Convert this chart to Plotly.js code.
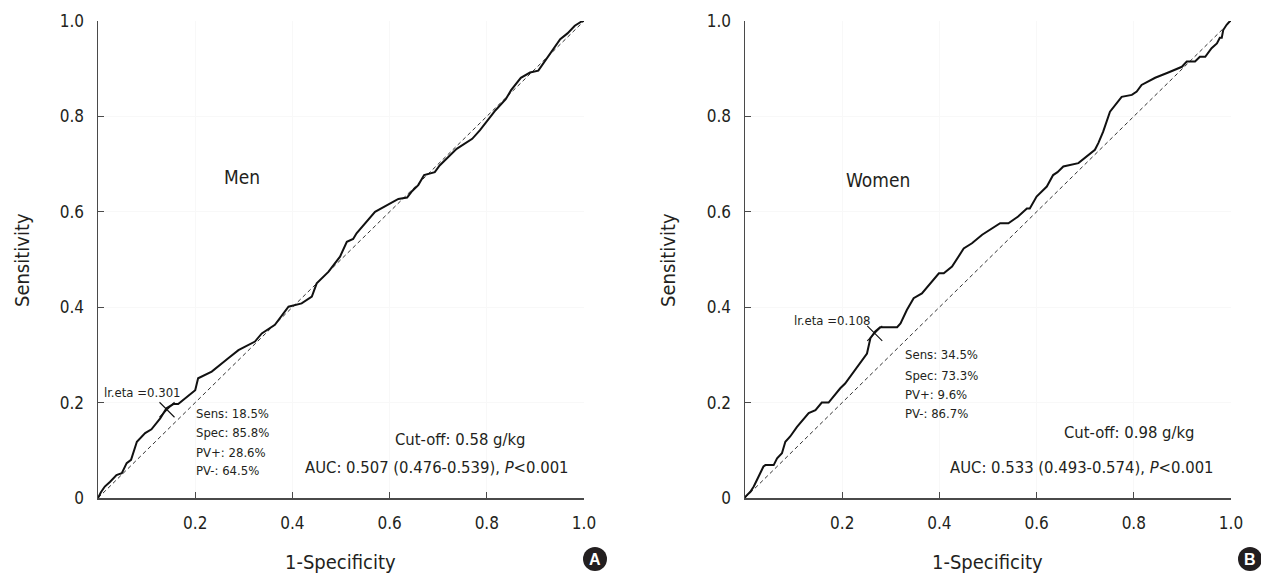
<!DOCTYPE html>
<html>
<head>
<meta charset="utf-8">
<script src="https://cdn.plot.ly/plotly-3.0.1.min.js"></script>
<style>html,body{margin:0;padding:0;background:#fff;}#chart{width:1261px;height:573px;}</style>
</head>
<body>
<div id="chart"></div>
<script>
// ---- data ----
const menFPR = [0,0.006,0.014,0.025,0.038,0.049,0.059,0.068,0.080,0.097,0.110,0.128,0.141,0.155,0.165,0.200,0.206,0.234,0.268,0.289,0.323,0.337,0.364,0.392,0.419,0.440,0.450,0.474,0.498,0.512,0.525,0.532,0.570,0.618,0.636,0.645,0.659,0.671,0.693,0.703,0.738,0.770,0.786,0.800,0.818,0.839,0.850,0.870,0.889,0.906,0.916,0.930,0.951,0.966,0.981,0.995,1];
const menTPR = [0,0.012,0.024,0.034,0.048,0.052,0.073,0.080,0.118,0.136,0.144,0.167,0.188,0.197,0.197,0.226,0.251,0.265,0.293,0.310,0.328,0.345,0.363,0.401,0.408,0.422,0.450,0.474,0.506,0.537,0.543,0.555,0.600,0.627,0.630,0.642,0.656,0.677,0.683,0.697,0.732,0.753,0.771,0.789,0.813,0.836,0.855,0.881,0.892,0.896,0.911,0.932,0.962,0.974,0.990,0.999,1];
const womenFPR = [0,0.001,0.011,0.018,0.028,0.038,0.042,0.059,0.066,0.076,0.083,0.093,0.107,0.121,0.131,0.145,0.158,0.172,0.196,0.206,0.224,0.237,0.251,0.258,0.268,0.278,0.313,0.320,0.333,0.347,0.364,0.399,0.409,0.426,0.450,0.467,0.488,0.525,0.542,0.562,0.580,0.586,0.600,0.621,0.634,0.643,0.655,0.686,0.706,0.720,0.727,0.737,0.751,0.775,0.796,0.806,0.816,0.844,0.871,0.899,0.909,0.926,0.936,0.947,0.960,0.971,0.977,0.981,0.984,0.991,0.998,1];
const womenTPR = [0,0.003,0.013,0.024,0.045,0.066,0.069,0.069,0.083,0.094,0.118,0.129,0.149,0.167,0.178,0.184,0.200,0.200,0.230,0.240,0.265,0.282,0.303,0.335,0.349,0.358,0.358,0.366,0.394,0.419,0.429,0.471,0.471,0.485,0.523,0.534,0.552,0.576,0.576,0.590,0.607,0.607,0.632,0.653,0.677,0.683,0.695,0.702,0.719,0.730,0.744,0.768,0.810,0.841,0.845,0.852,0.866,0.881,0.892,0.904,0.915,0.915,0.925,0.925,0.943,0.953,0.965,0.965,0.981,0.992,1.0,1];
const refLine = [0, 1];
const menCut = {fpr: 0.142, tpr: 0.185};
const womenCut = {fpr: 0.267, tpr: 0.345};
const xTickVals = [0.2, 0.4, 0.6, 0.8, 1.0];
const xTickText = ['0.2', '0.4', '0.6', '0.8', '1.0'];
const yTickVals = [0, 0.2, 0.4, 0.6, 0.8, 1.0];
const yTickText = ['0', '0.2', '0.4', '0.6', '0.8', '1.0'];
const menStats = ['Sens: 18.5%', 'Spec: 85.8%', 'PV+: 28.6%', 'PV-: 64.5%'];
const womenStats = ['Sens: 34.5%', 'Spec: 73.3%', 'PV+: 9.6%', 'PV-: 86.7%'];

const FONT = 'DejaVu Sans Condensed, Liberation Sans Narrow, Arial Narrow, sans-serif';
const TXT = '#231f20';
const AX = '#4a4a4a';

function curve(x, y, xa, ya) {
  return {x: x, y: y, xaxis: xa, yaxis: ya, mode: 'lines', line: {color: '#111', width: 2}, hoverinfo: 'skip'};
}
function diag(xa, ya) {
  return {x: refLine, y: refLine, xaxis: xa, yaxis: ya, mode: 'lines', line: {color: '#333', width: 1, dash: '4px,3px'}, hoverinfo: 'skip'};
}
function cut(c, xa, ya) {
  return {x: [c.fpr], y: [c.tpr], xaxis: xa, yaxis: ya, mode: 'markers',
    marker: {symbol: 'x-thin', size: 15, line: {color: '#111', width: 1.1}, color: '#111'}, hoverinfo: 'skip'};
}

const traces = [
  diag('x', 'y'), curve(menFPR, menTPR, 'x', 'y'), cut(menCut, 'x', 'y'),
  diag('x2', 'y2'), curve(womenFPR, womenTPR, 'x2', 'y2'), cut(womenCut, 'x2', 'y2')
];

function xa(domain, anchor) {
  return {domain: domain, anchor: anchor, range: [0, 1], showline: true, linecolor: AX, linewidth: 1.5,
    ticks: 'inside', ticklen: 6, tickwidth: 1.2, tickcolor: AX, tickmode: 'array', tickvals: xTickVals, ticktext: xTickText,
    tickfont: {family: FONT, size: 17, color: TXT}, ticklabelstandoff: 9, showgrid: true, gridcolor: '#f8f8f8',
    zeroline: false, fixedrange: true};
}
function ya(anchor) {
  return {domain: [0.13089, 0.96335], anchor: anchor, range: [0, 1], showline: true, linecolor: AX, linewidth: 1.5,
    ticks: 'inside', ticklen: 6, tickwidth: 1.2, tickcolor: AX, tickmode: 'array', tickvals: yTickVals, ticktext: yTickText,
    tickfont: {family: FONT, size: 17, color: TXT}, ticklabelstandoff: 9, showgrid: true, gridcolor: '#f8f8f8',
    zeroline: false, fixedrange: true};
}

function ann(text, x, y, xref, yref, size, opts) {
  return Object.assign({text: text, x: x, y: y, xref: xref, yref: yref, showarrow: false,
    xanchor: 'center', yanchor: 'middle',
    font: {family: FONT, size: size, color: TXT}}, opts || {});
}

const menStatY = [0.178, 0.138, 0.096, 0.057];
const womenStatY = [0.300, 0.256, 0.218, 0.178];

const annotations = [
  // panel A
  ann('Men', 0.296, 0.673, 'x', 'y', 19),
  ann('lr.eta =0.301', 0.008, 0.222, 'x', 'y', 13, {xanchor: 'left'}),
  ann('Cut-off: 0.58 g/kg', 0.745, 0.122, 'x', 'y', 16.5),
  ann('AUC: 0.507 (0.476-0.539), <i>P</i>&lt;0.001', 0.698, 0.063, 'x', 'y', 16.5),
  // panel B
  ann('Women', 0.274, 0.667, 'x2', 'y2', 19),
  ann('lr.eta =0.108', 0.097, 0.373, 'x2', 'y2', 13, {xanchor: 'left'}),
  ann('Cut-off: 0.98 g/kg', 0.792, 0.138, 'x2', 'y2', 16.5),
  ann('AUC: 0.533 (0.493-0.574), <i>P</i>&lt;0.001', 0.693, 0.063, 'x2', 'y2', 16.5),
  // axis titles
  ann('Sensitivity', 0.01745, 0.5462, 'paper', 'paper', 20, {textangle: -90}),
  ann('Sensitivity', 0.5297, 0.5462, 'paper', 'paper', 20, {textangle: -90}),
  ann('1-Specificity', 0.2704, 0.0192, 'paper', 'paper', 20),
  ann('1-Specificity', 0.7835, 0.0192, 'paper', 'paper', 20),
  // panel badges
  {text: '<b>A</b>', x: 595/1261, y: (573-559)/573, xref: 'paper', yref: 'paper', showarrow: false,
   xanchor: 'center', yanchor: 'middle',
   font: {family: 'Liberation Sans, Arial, sans-serif', size: 16, color: '#fff'}},
  {text: '<b>B</b>', x: 1250/1261, y: (573-559)/573, xref: 'paper', yref: 'paper', showarrow: false,
   xanchor: 'center', yanchor: 'middle',
   font: {family: 'Liberation Sans, Arial, sans-serif', size: 16, color: '#fff'}}
];
menStats.forEach((t, i) => annotations.push(ann(t, 0.198, menStatY[i], 'x', 'y', 13, {xanchor: 'left'})));
womenStats.forEach((t, i) => annotations.push(ann(t, 0.325, womenStatY[i], 'x2', 'y2', 13, {xanchor: 'left'})));

const shapes = [
  {type: 'circle', xref: 'paper', yref: 'paper', x0: 583/1261, x1: 607/1261, y0: (573-571)/573, y1: (573-547)/573,
   fillcolor: '#231f20', line: {width: 0}, layer: 'below'},
  {type: 'circle', xref: 'paper', yref: 'paper', x0: 1238/1261, x1: 1262/1261, y0: (573-571)/573, y1: (573-547)/573,
   fillcolor: '#231f20', line: {width: 0}, layer: 'below'}
];

const layout = {
  width: 1261, height: 573,
  margin: {l: 0, r: 0, t: 0, b: 0},
  paper_bgcolor: '#fff', plot_bgcolor: '#fff',
  showlegend: false,
  xaxis: xa([98/1261, 584/1261], 'y'),
  yaxis: ya('x'),
  xaxis2: xa([745/1261, 1231/1261], 'y2'),
  yaxis2: ya('x2'),
  annotations: annotations,
  shapes: shapes
};

Plotly.newPlot('chart', traces, layout, {staticPlot: true, displayModeBar: false});
</script>
</body>
</html>
